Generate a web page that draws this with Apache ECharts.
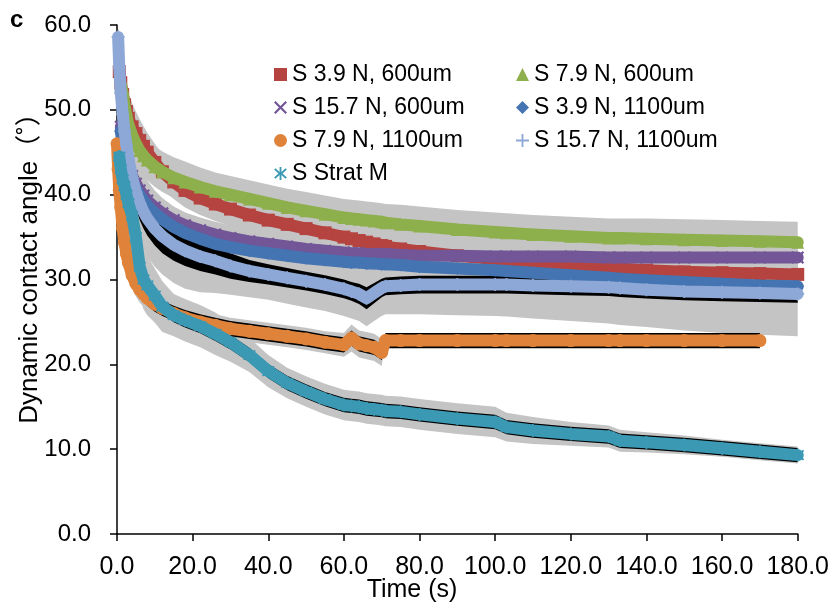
<!DOCTYPE html>
<html>
<head>
<meta charset="utf-8">
<script src="https://cdn.jsdelivr.net/npm/echarts@6/dist/echarts.min.js"></script>
<style>
  html, body { margin: 0; padding: 0; background: #fff; }
  #chart { width: 832px; height: 612px; }
</style>
</head>
<body>
<div id="chart"></div>
<script>
// Sampling times (s) shared by every series
const times = [0, 0.3, 0.6, 1, 1.5, 2, 2.5, 3, 4, 5,
  6, 7, 8, 10, 12, 15, 18, 22, 26, 30,
  35, 40, 45, 50, 55, 60, 62, 64, 66, 68,
  70, 71, 75, 80, 90, 100, 103, 110, 120, 130,
  133, 140, 150, 160, 170, 180];

const seriesNames = ['S 3.9 N, 600um', 'S 7.9 N, 600um', 'S 15.7 N, 600um', 'S 3.9 N, 1100um',
  'S 7.9 N, 1100um', 'S 15.7 N, 1100um', 'S Strat M'];

// Mean dynamic contact angle (degrees)
const s39n600 = [null, null, 54.5, 53.2, 51.8, 50.6, 49.8, 49, 48, 47.2,
  46.4, 45.7, 45, 43.8, 42.7, 41.5, 40.5, 39.6, 38.9, 38.3,
  37.6, 37, 36.5, 36, 35.5, 35, 34.8, 34.6, 34.4, 34.2,
  34, 33.9, 33.6, 33.3, 32.8, 32.4, 32.3, 32, 31.7, 31.4,
  31.3, 31.1, 30.9, 30.8, 30.7, 30.6];
const s79n600 = [null, null, null, 53, 52, 50.5, 49.3, 48.3, 47, 46,
  45.2, 44.6, 44.1, 43.3, 42.7, 42, 41.5, 40.9, 40.4, 40,
  39.5, 39, 38.5, 38.1, 37.7, 37.3, 37.2, 37.1, 37, 36.9,
  36.8, 36.7, 36.5, 36.3, 35.9, 35.6, 35.5, 35.3, 35.1, 34.9,
  34.9, 34.8, 34.7, 34.6, 34.5, 34.4];
const s157n600 = [null, null, null, 48, 46.5, 45.2, 44.2, 43.4, 42.2, 41.3,
  40.5, 39.9, 39.3, 38.5, 37.8, 37, 36.4, 35.8, 35.3, 34.9,
  34.5, 34.2, 33.9, 33.6, 33.4, 33.2, 33.1, 33.1, 33, 33,
  33, 33, 32.9, 32.8, 32.8, 32.7, 32.7, 32.7, 32.7, 32.6,
  32.6, 32.6, 32.6, 32.6, 32.6, 32.6];
const s39n1100 = [null, null, null, 47.5, 46, 44.8, 43.8, 43, 41.7, 40.7,
  39.9, 39.3, 38.7, 37.8, 37.1, 36.2, 35.5, 34.8, 34.2, 33.8,
  33.4, 33.1, 32.8, 32.5, 32.3, 32.1, 32, 32, 31.9, 31.9,
  31.8, 31.8, 31.7, 31.5, 31.3, 31.1, 31, 30.8, 30.5, 30.2,
  30.1, 29.9, 29.7, 29.5, 29.3, 29.2];
const s79n1100 = [46, 43, 40.5, 38.5, 36, 34.3, 33, 32, 30.5, 29.5,
  28.8, 28.3, 27.8, 27.1, 26.6, 26, 25.5, 25, 24.6, 24.2,
  23.9, 23.6, 23.3, 23, 22.6, 22.3, 23.1, 22.4, 22.2, 22,
  21.4, 22.8, 22.8, 22.8, 22.8, 22.8, 22.8, 22.8, 22.8, 22.8,
  22.8, 22.8, 22.8, 22.8, 22.8, null];
const s157n1100 = [null, 58.6, 55, 52, 49.5, 47.5, 45.8, 44.3, 42, 40.3,
  39, 38, 37.2, 36, 35.1, 34.1, 33.4, 32.7, 32.2, 31.6,
  31, 30.6, 30.2, 29.8, 29.4, 28.9, 28.6, 28.3, 27.8, 28.4,
  29, 29.2, 29.3, 29.4, 29.4, 29.4, 29.4, 29.3, 29.2, 29.1,
  29, 28.8, 28.6, 28.5, 28.4, 28.3];
const sStratM = [null, null, 44.5, 43, 41.8, 41, 40, 39, 37.5, 35,
  31.5, 30, 29.3, 28.1, 26.8, 25.8, 25.2, 24.5, 23.6, 22.6,
  21.1, 19.2, 17.8, 16.8, 15.9, 15.2, 15.1, 15, 14.8, 14.7,
  14.6, 14.5, 14.4, 14.1, 13.6, 13.2, 12.6, 12.2, 11.8, 11.5,
  11, 10.8, 10.5, 10.1, 9.7, 9.3];

// Standard deviations (grey error bars)
const err39n600 = [0, 0, 3, 3, 3, 3, 3, 3, 2.8, 2.6,
  2.5, 2.4, 2.3, 2.2, 2.1, 2, 2, 2, 2, 2,
  2, 2, 2, 2, 2, 2, 2, 2, 2, 2,
  2, 2, 2, 2, 2, 2, 2, 2, 2, 2,
  2, 2, 2, 2, 2, 2];
const err79n600 = [0, 0, 0, 2.5, 2.5, 2.5, 2.4, 2.4, 2.4, 2.4,
  2.4, 2.4, 2.4, 2.4, 2.4, 2.4, 2.4, 2.3, 2.2, 2.2,
  2.2, 2.2, 2.2, 2.2, 2.2, 2.2, 2.2, 2.2, 2.2, 2.2,
  2.2, 2.2, 2.3, 2.3, 2.3, 2.3, 2.3, 2.3, 2.3, 2.3,
  2.3, 2.4, 2.4, 2.4, 2.4, 2.4];
const err157n600 = 1.5;
const err39n1100 = 2;
const err79n1100 = [1.5, 1.5, 1.5, 1.5, 1.5, 1.5, 1.5, 1.5, 1.5, 1.5,
  1.5, 1.5, 1.5, 1.3, 1.3, 1.3, 1.3, 1.3, 1.3, 1.3,
  1.3, 1.3, 1.3, 1.3, 1.3, 1.4, 1.6, 1.6, 1.6, 1.6,
  1.6, 0, 0, 0, 0, 0, 0, 0, 0, 0,
  0, 0, 0, 0, 0, 0];
const err157n1100 = [0, 1.5, 2, 2.5, 3, 3.5, 4, 4.5, 4.5, 4.5,
  4.5, 4.5, 4.5, 4.5, 4.5, 4.5, 4.5, 4.2, 3.8, 3.4,
  3.1, 3, 3.05, 3.1, 3.1, 3.2, 3.2, 3.2, 3.3, 3.3,
  3.3, 3.3, 3.4, 3.5, 3.6, 3.7, 3.75, 3.9, 4.1, 4.3,
  4.35, 4.4, 4.6, 4.8, 4.9, 5];
const errStratM = [0, 0, 2, 2.5, 3, 3.5, 3.5, 3.5, 3.5, 3.5,
  3.5, 3.5, 3.5, 3.2, 3, 2.5, 2.5, 2.5, 2.5, 2.3,
  2, 1.9, 1.8, 1.8, 1.8, 1.8, 1.8, 1.8, 1.8, 1.8,
  1.8, 1.8, 1.8, 1.8, 1.8, 1.8, 1.7, 1.6, 1.4, 1.3,
  1.3, 1.2, 1.1, 1, 1, 1];

// Standard deviations drawn with black bars
const blackErr157n1100 = [0, 1, 1.2, 1.4, 1.6, 1.8, 1.9, 2, 2, 2,
  2, 2, 2, 2, 2, 1.9, 1.8, 1.7, 1.6, 1.5,
  1.3, 1.2, 1.15, 1.1, 1.1, 1.1, 1.1, 1.2, 1.3, 1.2,
  1.1, 1.05, 1.05, 1.05, 1.05, 1.05, 1.05, 1.05, 1.05, 1.05,
  1.05, 1.05, 1.05, 1.05, 1.05, 1.05];
const blackErr79n1100 = 0.9;
const blackErrStratM = 0.85;

const colors = ['#B5433F', '#8DAF4C', '#725697', '#4574B2', '#E0833A', '#8DA8D6', '#3B99B4'];

const xIcon = 'path://M0,1.2 L1.2,0 L5,3.8 L8.8,0 L10,1.2 L6.2,5 L10,8.8 L8.8,10 L5,6.2 L1.2,10 L0,8.8 L3.8,5 Z';
const plusIcon = 'path://M4.3,0 H5.7 V4.3 H10 V5.7 H5.7 V10 H4.3 V5.7 H0 V4.3 H4.3 Z';
const starIcon = 'path://M4.3,0 H5.7 V3.8 L8.9,0.9 L9.9,1.9 L6.6,5 L9.9,8.1 L8.9,9.1 L5.7,6.2 V10 H4.3 V6.2 L1.1,9.1 L0.1,8.1 L3.4,5 L0.1,1.9 L1.1,0.9 L4.3,3.8 Z';
const symbols = ['rect', 'triangle', xIcon, 'diamond', 'circle', plusIcon, starIcon];

const values = [s39n600, s79n600, s157n600, s39n1100, s79n1100, s157n1100, sStratM];
const greyErrs = [err39n600, err79n600, err157n600, err39n1100, err79n1100, err157n1100, errStratM];

function errAt(e, i) { return Array.isArray(e) ? e[i] : e; }

// Filled envelope (mean ± error) built from the axis scales
function band(vals, errs, fill, z) {
  return {
    type: 'custom',
    coordinateSystem: 'cartesian2d',
    silent: true,
    clip: true,
    z: z,
    data: [[0, 0]],
    renderItem: function (params, api) {
      const up = [], lo = [];
      for (let i = 0; i < times.length; i++) {
        if (vals[i] == null) continue;
        const e = errAt(errs, i);
        up.push(api.coord([times[i], vals[i] + e]));
        lo.push(api.coord([times[i], vals[i] - e]));
      }
      return {
        type: 'polygon',
        shape: { points: up.concat(lo.reverse()) },
        style: { fill: fill }
      };
    }
  };
}

const series = [];
values.forEach((v, k) => series.push(band(v, greyErrs[k], '#C4C4C4', 1)));
series.push(band(s157n1100, blackErr157n1100, '#000000', 2));
series.push(band(s79n1100, blackErr79n1100, '#000000', 2));
series.push(band(sStratM, blackErrStratM, '#000000', 2));

values.forEach((v, k) => {
  series.push({
    type: 'line',
    name: seriesNames[k],
    data: times.map((t, i) => [t, v[i] == null ? '-' : v[i]]),
    symbol: symbols[k],
    symbolSize: 13,
    showSymbol: true,
    lineStyle: { width: 12, color: colors[k], join: 'round', cap: 'round' },
    itemStyle: { color: colors[k] },
    z: 3 + k
  });
});

const legendText = { color: '#000', fontSize: 23, fontFamily: '"Liberation Sans", Arial, sans-serif', lineHeight: 23 };

const chart = echarts.init(document.getElementById('chart'), null, { renderer: 'canvas' });
chart.setOption({
  animation: false,
  backgroundColor: '#fff',
  grid: { left: 117, right: 34, top: 25, bottom: 78, containLabel: false },
  xAxis: {
    type: 'value', min: 0, max: 180, interval: 20,
    axisLine: { show: true, lineStyle: { color: '#000', width: 1.5 } },
    axisTick: { show: true, inside: false, length: 7, lineStyle: { color: '#000', width: 1.5 } },
    splitLine: { show: false },
    axisLabel: {
      margin: 21, color: '#000', fontSize: 25, showMaxLabel: true, hideOverlap: false,
      fontFamily: '"Liberation Sans", Arial, sans-serif',
      formatter: v => v.toFixed(1)
    }
  },
  yAxis: {
    type: 'value', min: 0, max: 60, interval: 10,
    axisLine: { show: true, lineStyle: { color: '#000', width: 1.5 } },
    axisTick: { show: true, inside: false, length: 7, lineStyle: { color: '#000', width: 1.5 } },
    splitLine: { show: false },
    axisLabel: {
      margin: 26, color: '#000', fontSize: 24,
      fontFamily: '"Liberation Sans", Arial, sans-serif',
      formatter: v => v.toFixed(1)
    }
  },
  legend: [
    {
      orient: 'vertical', left: 274, top: 63, padding: 0, itemGap: 10,
      itemWidth: 13, itemHeight: 13, selectedMode: false, textStyle: legendText,
      data: [
        { name: seriesNames[0], icon: symbols[0] },
        { name: seriesNames[2], icon: symbols[2] },
        { name: seriesNames[4], icon: symbols[4] },
        { name: seriesNames[6], icon: symbols[6] }
      ]
    },
    {
      orient: 'vertical', left: 516, top: 63, padding: 0, itemGap: 10,
      itemWidth: 13, itemHeight: 13, selectedMode: false, textStyle: legendText,
      data: [
        { name: seriesNames[1], icon: symbols[1] },
        { name: seriesNames[3], icon: symbols[3] },
        { name: seriesNames[5], icon: symbols[5] }
      ]
    }
  ],
  graphic: [
    {
      type: 'text', left: 10, top: 8,
      style: { text: 'c', font: 'bold 24px "Liberation Sans", Arial, sans-serif', fill: '#000' }
    },
    {
      type: 'text', x: 412, y: 590,
      style: {
        text: 'Time (s)', fill: '#000', textAlign: 'center', textVerticalAlign: 'middle',
        font: '25px "Liberation Sans", Arial, sans-serif'
      }
    },
    {
      type: 'text', x: 30, y: 262, rotation: Math.PI / 2,
      style: {
        text: 'Dynamic contact angle（˚）', fill: '#000', textAlign: 'center', textVerticalAlign: 'middle',
        font: '26px "Liberation Sans", "Noto Sans CJK SC", sans-serif'
      }
    }
  ],
  series: series
});
</script>
</body>
</html>
